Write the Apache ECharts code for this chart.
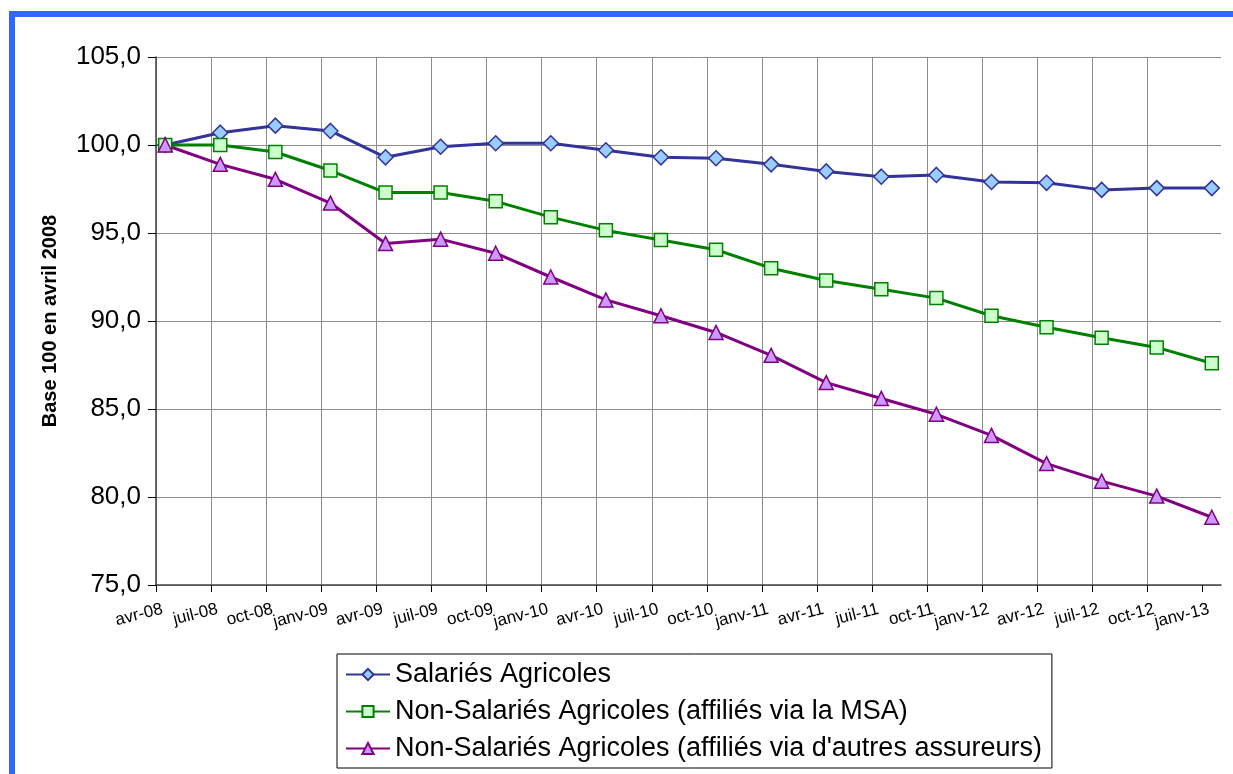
<!DOCTYPE html>
<html>
<head>
<meta charset="utf-8">
<script src="https://cdn.jsdelivr.net/npm/echarts@6/dist/echarts.min.js"></script>
<style>
  html, body { margin: 0; padding: 0; background: #fff; }
  #main { width: 1233px; height: 774px; }
</style>
</head>
<body>
<div id="main"></div>
<script>
// trimestres, d'avril 2008 a janvier 2013
const quarterLabels = [
  'avr-08', 'juil-08', 'oct-08', 'janv-09', 'avr-09', 'juil-09', 'oct-09',
  'janv-10', 'avr-10', 'juil-10', 'oct-10', 'janv-11', 'avr-11', 'juil-11',
  'oct-11', 'janv-12', 'avr-12', 'juil-12', 'oct-12', 'janv-13'
]
const salaries = [
  100.0, 100.7, 101.1, 100.8, 99.3, 99.9, 100.1, 100.1, 99.7, 99.3,
  99.25, 98.9, 98.5, 98.2, 98.3, 97.9, 97.85, 97.45, 97.55, 97.55
]
const nsMsa = [
  100.0, 100.0, 99.6, 98.55, 97.3, 97.3, 96.8, 95.9, 95.15, 94.6,
  94.05, 93.0, 92.3, 91.8, 91.3, 90.3, 89.65, 89.05, 88.5, 87.6
]
const nsAutres = [
  100.0, 98.9, 98.05, 96.7, 94.4, 94.65, 93.85, 92.5, 91.2, 90.3,
  89.35, 88.05, 86.5, 85.6, 84.7, 83.5, 81.9, 80.9, 80.05, 78.85
]
const seriesNames = [
  'Salariés Agricoles',
  'Non-Salariés Agricoles (affiliés via la MSA)',
  "Non-Salariés Agricoles (affiliés via d'autres assureurs)"
]

// axe en mois depuis avr-08 (0..58), un trait tous les 3 mois, points en milieu de mois
const axisMaxMonth = 58
const tickMonths = quarterLabels.map((_, i) => i * 3)
// labels un peu decales a droite comme dans Excel ; un label vide en bout d'axe
// pour que le dernier vrai label (janv-13) ne soit pas masque
const labelMonths = tickMonths.map((m) => m + 0.35).concat([axisMaxMonth])
const pointMonths = quarterLabels.map((_, i) => i * 3 + 0.5)
const toPairs = (vals) => vals.map((v, i) => [pointMonths[i], v])

const font = "'Liberation Sans', Arial, sans-serif"

function lineSeries(name, vals, symbol, size, lineColor, fill) {
  return {
    name: name,
    type: 'line',
    data: toPairs(vals),
    symbol: symbol,
    symbolSize: size,
    lineStyle: { color: lineColor, width: 3 },
    itemStyle: { color: fill, borderColor: lineColor, borderWidth: 1.5 },
    emphasis: { disabled: true },
  }
}

const chart = echarts.init(document.getElementById('main'))
chart.setOption({
  animation: false,
  backgroundColor: '#fff',
  graphic: [{
    type: 'rect',
    shape: { x: 12, y: 14, width: 1400, height: 1000 },
    style: { fill: 'none', stroke: '#3366FF', lineWidth: 6 },
    silent: true,
  }],
  grid: { left: 156, top: 57, right: 12, bottom: 189 },
  legend: {
    orient: 'vertical',
    left: 337,
    top: 654,
    padding: [7, 10, 6, 8],
    itemGap: 10,
    itemWidth: 44,
    itemHeight: 14,
    borderColor: '#000',
    borderWidth: 1,
    backgroundColor: '#fff',
    textStyle: { fontSize: 27, color: '#000', fontFamily: font },
    data: seriesNames,
  },
  xAxis: {
    type: 'value',
    min: 0,
    max: axisMaxMonth,
    interval: 3,
    axisLine: { lineStyle: { color: '#444', width: 1.5 } },
    axisTick: { show: true, inside: false, length: 7, lineStyle: { color: '#000' }, customValues: tickMonths },
    axisLabel: {
      customValues: labelMonths,
      hideOverlap: false,
      rotate: 14,
      margin: 24,
      fontSize: 17,
      color: '#000',
      fontFamily: font,
      formatter: (v) => (v % 3 < 1 ? quarterLabels[Math.floor(v / 3)] : ''),
    },
    splitLine: { show: true, showMaxLine: false, lineStyle: { color: '#8c8c8c', width: 1 } },
  },
  yAxis: {
    type: 'value',
    min: 75,
    max: 105,
    interval: 5,
    name: 'Base 100 en avril 2008',
    nameLocation: 'middle',
    nameRotate: 90,
    nameGap: 96,
    nameTextStyle: { fontSize: 20, fontWeight: 'bold', color: '#000', fontFamily: font },
    axisLine: { show: true, lineStyle: { color: '#444', width: 1.5 } },
    axisTick: { show: true, inside: false, length: 8, lineStyle: { color: '#000' } },
    axisLabel: {
      margin: 15,
      fontSize: 26,
      color: '#000',
      fontFamily: font,
      formatter: (v) => v.toFixed(1).replace('.', ','),
    },
    splitLine: { show: true, lineStyle: { color: '#8c8c8c', width: 1 } },
  },
  series: [
    lineSeries(seriesNames[0], salaries, 'diamond', 15, '#333399', '#99CCFF'),
    lineSeries(seriesNames[1], nsMsa, 'rect', 13, '#008000', '#CCFFCC'),
    lineSeries(seriesNames[2], nsAutres, 'triangle', 14, '#800080', '#CC99FF'),
  ],
})
</script>
</body>
</html>
